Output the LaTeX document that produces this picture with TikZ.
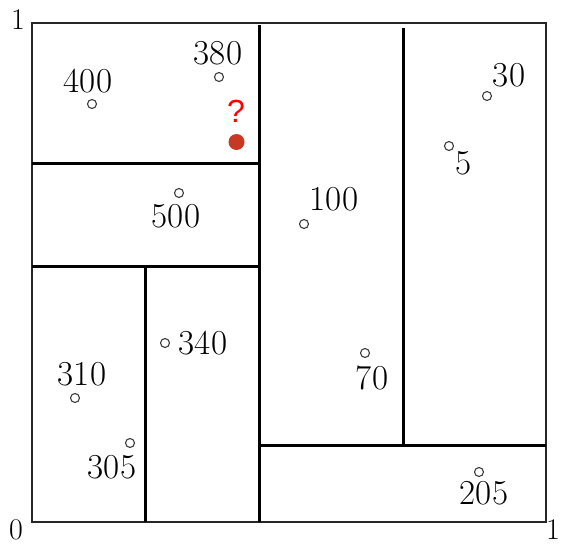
\documentclass[tikz,border=0pt]{standalone}
\usepackage{fontspec}
\newfontfamily\qfont{Liberation Sans}
\definecolor{dotred}{RGB}{200,56,34}
\definecolor{ptgray}{RGB}{60,60,60}
\begin{document}
\begin{tikzpicture}[x=1pt,y=-1pt,
  outer/.style={line width=1.6pt,draw=black!85},
  part/.style={line width=3pt,draw=black},
  pt/.style={circle,draw=ptgray,line width=1.1pt,minimum size=9pt,inner sep=0pt},
  lbl/.style={inner sep=0pt,font=\fontsize{35}{40}\selectfont},
  axl/.style={inner sep=0pt,font=\fontsize{30}{34}\selectfont}]
\useasboundingbox (0,0) rectangle (561,545);
% outer square
\draw[outer] (32,23) rectangle (546,522);
% partitions
\coordinate (v1t) at (259,25); \coordinate (v1b) at (259,522);
\coordinate (v2t) at (403,28); \coordinate (v2b) at (403,445);
\coordinate (h1l) at (259,445); \coordinate (h1r) at (546,445);
\coordinate (h2l) at (32,164); \coordinate (h2r) at (259,164);
\coordinate (h3l) at (32,266); \coordinate (h3r) at (259,266);
\coordinate (v3t) at (145,266); \coordinate (v3b) at (145,522);
\draw[part] (v1t) -- (v1b);
\draw[part] (v2t) -- (v2b);
\draw[part] (h1l) -- (h1r);
\draw[part] (h2l) -- (h2r);
\draw[part] (h3l) -- (h3r);
\draw[part] (v3t) -- (v3b);
% points
\node[pt] (p400) at (92,104) {};
\node[pt] (p380) at (219,77) {};
\node[pt] (p500) at (179,193) {};
\node[pt] (p100) at (304,224) {};
\node[pt] (p30) at (487,96) {};
\node[pt] (p5) at (449,146) {};
\node[pt] (p340) at (165,343) {};
\node[pt] (p310) at (75,398) {};
\node[pt] (p305) at (130,443) {};
\node[pt] (p70) at (365,353) {};
\node[pt] (p205) at (479,472) {};
% labels
\node[lbl] (l400) at (88,81.5) {400};
\node[lbl] (l380) at (218,53) {380};
\node[lbl] (l500) at (176,216.5) {500};
\node[lbl] (l100) at (334,199.5) {100};
\node[lbl] (l30) at (509,75.5) {30};
\node[lbl] (l5) at (464,163) {5};
\node[lbl] (l340) at (203,343.5) {340};
\node[lbl] (l310) at (82,374) {310};
\node[lbl] (l305) at (112,467) {305};
\node[lbl] (l70) at (372,378) {70};
\node[lbl] (l205) at (484,493.5) {205};
% query
\node[circle,fill=dotred,minimum size=16pt,inner sep=0pt] (q) at (236.5,142) {};
\node[inner sep=0pt,text=red,font=\qfont\fontsize{32}{36}\selectfont] (qm) at (236,111) {?};
% axis labels
\node[axl] (a1) at (18,20) {1};
\node[axl] (a0) at (16,530) {0};
\node[axl] (a1r) at (553,530) {1};
\end{tikzpicture}
\end{document}
